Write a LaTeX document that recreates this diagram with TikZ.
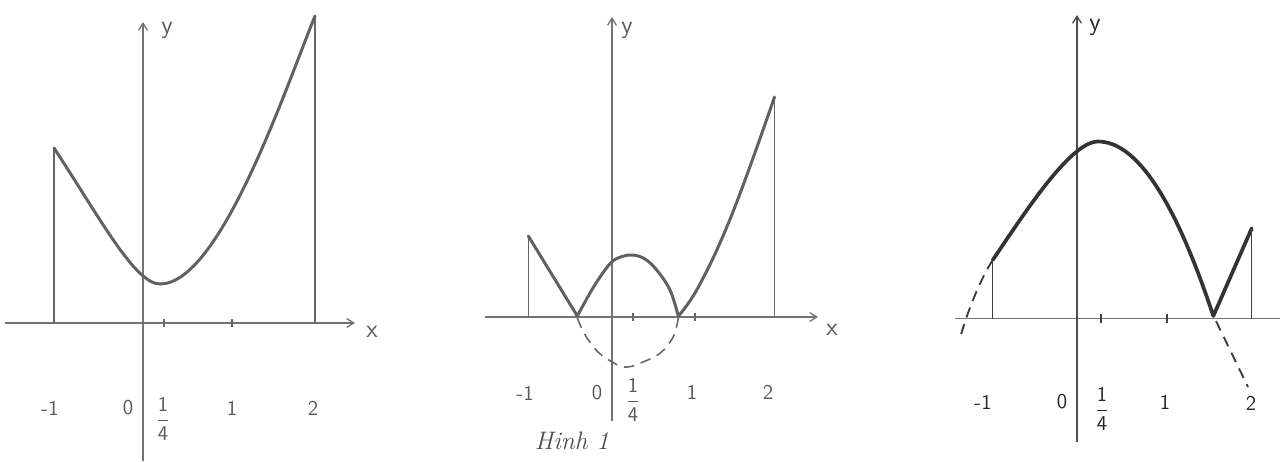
\documentclass[tikz,border=0pt]{standalone}
\usetikzlibrary{arrows.meta}
\tikzset{
  axisline/.style={draw=black!55, line width=0.75pt, -{Straight Barb[length=4pt,width=5pt]}},
  plainaxis/.style={draw=black!55, line width=0.75pt},
  ordinate/.style={draw=black!60, line width=0.75pt},
  tickmark/.style={draw=black!60, line width=0.9pt},
  graphline/.style={draw=black!62, line width=1.7pt, line cap=round, line join=round},
  darkgraph/.style={draw=black!80, line width=2.1pt, line cap=round, line join=round},
  dashcurve/.style={draw=black!60, line width=0.9pt, dash pattern=on 6pt off 4pt},
  lbl/.style={font=\sffamily\large, text=black!65, inner sep=1pt},
  darklbl/.style={font=\sffamily\large, text=black!85, inner sep=1pt},
  axlbl/.style={font=\sffamily\Large, text=black!65, inner sep=1pt}
}
\newcommand{\quarter}{$\displaystyle\frac{\mathsf{1}}{\mathsf{4}}$}
\begin{document}
\begin{tikzpicture}[x=0.02cm, y=-0.02cm]
  \useasboundingbox (0,0) rectangle (1280,461);

  % ---- Left graph ----
  \draw[axisline] (5,323) -- (355,323);
  \draw[axisline] (143,461) -- (143,22);
  \draw[tickmark] (164,319) -- (164,327);
  \draw[tickmark] (232,319) -- (232,327);
  \coordinate (aL) at (54,148);
  \coordinate (aM) at (160,284);
  \coordinate (aR) at (315,16);
  \draw[ordinate] (54,323) -- (aL);
  \draw[ordinate] (aR) -- (315,323);
  \draw[graphline] (aL) .. controls (100,218) and (135,284) .. (aM)
    .. controls (220,284) and (285,89.5) .. (aR);
  \node[axlbl] (xa) at (372,332) {x};
  \node[axlbl] (ya) at (167,30) {y};
  \node[lbl] (ma1) at (50,408) {-1};
  \node[lbl] (za) at (128,408) {0};
  \node[lbl] (qa) at (163,419) {\quarter};
  \node[lbl] (oa) at (232,408) {1};
  \node[lbl] (ta) at (313,408) {2};

  % ---- Middle graph (Hinh 1) ----
  \draw[axisline] (485,317) -- (818,317);
  \draw[axisline] (612,421) -- (612,17);
  \draw[tickmark] (633,313) -- (633,321);
  \draw[tickmark] (695,313) -- (695,321);
  \coordinate (bL) at (528.3,236);
  \coordinate (bZ1) at (577.3,316);
  \coordinate (bZ2) at (678.3,316);
  \coordinate (bR) at (774.5,97);
  \draw[ordinate] (528.3,317) -- (bL);
  \draw[ordinate] (bR) -- (774.5,317);
  \draw[graphline] (bL) -- (bZ1);
  \draw[graphline] plot[smooth, tension=0.6] coordinates {
    (577.3,316) (590,293) (600,277) (611.7,262) (622,256.5) (633,255)
    (645,259) (656.7,270) (670,290) (678.3,316)};
  \draw[graphline] plot[smooth, tension=0.7] coordinates {
    (678.3,316) (700,284) (733.3,211) (774.5,97)};
  \draw[dashcurve] plot[smooth, tension=0.6] coordinates {
    (577.3,318) (584,333) (593.3,346.7) (602,355.5) (611.7,361.7) (621.7,366.7)
    (631,366.5) (640,363.3) (660,353.3) (673.3,336.7) (678.3,318)};
  \node[axlbl] (xb) at (832,330) {x};
  \node[axlbl] (yb) at (627,30) {y};
  \node[lbl] (mb1) at (525,393) {-1};
  \node[lbl] (zb) at (597,393) {0};
  \node[lbl] (qb) at (633,400) {\quarter};
  \node[lbl] (ob) at (692,392) {1};
  \node[lbl] (tb) at (768,392) {2};
  \node[font=\Large\itshape, text=black!70] (cap) at (572,441) {Hinh 1};

  % ---- Right graph ----
  \draw[plainaxis] (955,318.5) -- (1280,318.5);
  \draw[axisline, draw=black!70] (1077,442) -- (1077,15);
  \draw[tickmark, draw=black!75] (1101,314) -- (1101,323);
  \draw[tickmark, draw=black!75] (1167,314) -- (1167,323);
  \coordinate (cL) at (992.7,260);
  \coordinate (cT) at (1098,141.5);
  \coordinate (cZ) at (1213.3,316);
  \coordinate (cR) at (1251.7,228.3);
  \draw[ordinate, draw=black!75] (992.7,318.5) -- (cL);
  \draw[darkgraph] (cL) .. controls (1022.7,216) and (1070,141.5) .. (cT)
    .. controls (1136.4,141.5) and (1174.9,199.7) .. (cZ) -- (cR);
  \draw[ordinate, draw=black!75] (cR) -- (1251.7,318.5);
  \draw[dashcurve, draw=black!75, line width=1.1pt] (cL) .. controls (980,280) and (968,310) .. (960,338);
  \draw[dashcurve, draw=black!75, line width=1.1pt] (1216,321) -- (1248,387);
  \node[axlbl, text=black!85] (yc) at (1095,27) {y};
  \node[darklbl] (mc1) at (983,402) {-1};
  \node[darklbl] (zc) at (1062,402) {0};
  \node[darklbl] (qc) at (1102,409) {\quarter};
  \node[darklbl] (oc) at (1165,402) {1};
  \node[darklbl] (tc) at (1251,403) {2};
\end{tikzpicture}
\end{document}
